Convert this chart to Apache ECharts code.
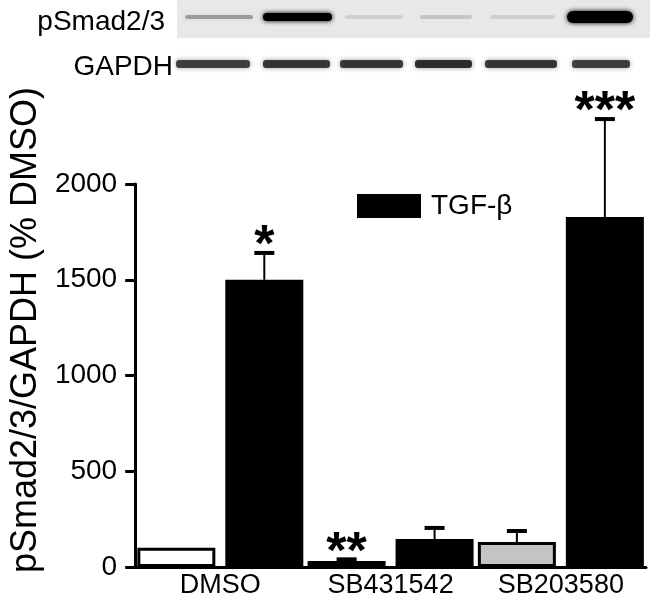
<!DOCTYPE html>
<html>
<head>
<meta charset="utf-8">
<script src="https://cdn.jsdelivr.net/npm/echarts@6/dist/echarts.min.js"></script>
<style>
  html, body { margin: 0; padding: 0; background: #fff; }
  #chart { width: 650px; height: 603px; }
</style>
</head>
<body>
<div id="chart"></div>
<script>
// data
const categories = ['DMSO', 'SB431542', 'SB203580']
const ctrlValues = [100, 31, 130]
const ctrlErrTop = [null, 40, 188]
const tgfValues = [1500, 146, 1828]
const tgfErrTop = [1640, 204, 2339]
const ctrlStars = ['', '**', '']
const tgfStars = ['*', '', '***']
const yTicks = [0, 500, 1000, 1500, 2000]
// western blot band intensity per lane (0..1)
const pSmadBands = [0.3, 1, 0.1, 0.14, 0.1, 1]
const gapdhBands = [0.8, 0.85, 0.85, 0.9, 0.85, 0.8]

const FONT = 'Liberation Sans, Arial, sans-serif'
const BAR_W = 78
const BAR_GAP = 0.128
const HALF = (BAR_W * (1 + BAR_GAP)) / 2

const chart = echarts.init(document.getElementById('chart'), null, { renderer: 'canvas' })

function errorSeries(name, values, tops, stars, side) {
  return {
    name,
    type: 'custom',
    z: 5,
    clip: false,
    silent: true,
    data: values.map((v, i) => [i, v, tops[i] == null ? v : tops[i], tops[i] == null ? 0 : 1]),
    renderItem(params, api) {
      const i = params.dataIndex
      const base = api.coord([api.value(0), api.value(1)])
      const top = api.coord([api.value(0), api.value(2)])
      const x = base[0] + side * HALF
      const children = []
      if (api.value(3)) {
        children.push({
          type: 'line',
          shape: { x1: x, y1: base[1], x2: x, y2: top[1] },
          style: { stroke: '#000', lineWidth: 2 },
        })
        children.push({
          type: 'line',
          shape: { x1: x - 10, y1: top[1], x2: x + 10, y2: top[1] },
          style: { stroke: '#000', lineWidth: 4 },
        })
      }
      if (stars[i]) {
        children.push({
          type: 'text',
          x,
          y: top[1] + 20,
          style: {
            text: stars[i],
            font: 'bold 52px ' + FONT,
            fill: '#000',
            align: 'center',
            verticalAlign: 'bottom',
          },
        })
      }
      return { type: 'group', children }
    },
  }
}

function blotGraphics() {
  const pLanes = [[185, 253], [263, 332], [345, 403], [420, 472], [490, 555], [567, 633]]
  const gLanes = [[176, 250], [263, 330], [340, 403], [415, 472], [485, 557], [572, 630]]
  const out = [
    { type: 'rect', shape: { x: 177, y: 0, width: 473, height: 38 }, style: { fill: '#e8e8e8' }, z: 1 },
    {
      type: 'text', x: 165, y: 22, z: 3,
      style: { text: 'pSmad2/3', font: '28px ' + FONT, fill: '#000', align: 'right', verticalAlign: 'middle' },
    },
    {
      type: 'text', x: 173, y: 67, z: 3,
      style: { text: 'GAPDH', font: '28px ' + FONT, fill: '#000', align: 'right', verticalAlign: 'middle' },
    },
  ]
  pSmadBands.forEach((a, k) => {
    const [x0, x1] = pLanes[k]
    const h = a > 0.5 ? (k === 5 ? 12 : 8) : 4
    const c = `rgba(0,0,0,${a})`
    out.push({
      type: 'rect', z: 2,
      shape: { x: x0, y: 17 - h / 2, width: x1 - x0, height: h, r: h / 2 },
      style: { fill: c, shadowColor: c, shadowBlur: 5 },
    })
  })
  gapdhBands.forEach((a, k) => {
    const [x0, x1] = gLanes[k]
    const c = `rgba(30,30,30,${a})`
    out.push({
      type: 'rect', z: 2,
      shape: { x: x0, y: 60, width: x1 - x0, height: 8, r: 3 },
      style: { fill: c, shadowColor: 'rgba(0,0,0,0.45)', shadowBlur: 5 },
    })
  })
  return out
}

chart.setOption({
  backgroundColor: '#fff',
  animation: false,
  textStyle: { fontFamily: FONT, color: '#000' },
  grid: { left: 121, right: 4, top: 184, bottom: 36, containLabel: false },
  legend: {
    data: ['TGF-β'],
    left: 357,
    top: 192,
    padding: 0,
    itemWidth: 62,
    itemHeight: 22,
    icon: 'rect',
    textStyle: { fontSize: 28, color: '#000', fontFamily: FONT, padding: [0, 0, 0, 6] },
  },
  xAxis: {
    type: 'category',
    data: categories,
    axisLine: { lineStyle: { color: '#000', width: 3 } },
    axisTick: { show: false },
    axisLabel: { fontSize: 27, color: '#000', margin: 5, fontFamily: FONT },
  },
  yAxis: {
    type: 'value',
    min: yTicks[0],
    max: yTicks[yTicks.length - 1],
    interval: 500,
    name: 'pSmad2/3/GAPDH (% DMSO)',
    nameLocation: 'middle',
    nameGap: 82,
    nameTextStyle: { fontSize: 36, color: '#000', fontFamily: FONT, padding: [0, 0, 0, 91] },
    axisLine: { show: true, lineStyle: { color: '#000', width: 3 } },
    axisTick: { show: true, length: 10, lineStyle: { color: '#000', width: 3 } },
    axisLabel: { fontSize: 28, color: '#000', margin: 18, fontFamily: FONT, formatter: (v) => String(v) },
    splitLine: { show: false },
  },
  series: [
    {
      name: 'Control',
      type: 'bar',
      barWidth: BAR_W,
      barGap: BAR_GAP * 100 + '%',
      data: ctrlValues.map((v, i) => ({
        value: v,
        itemStyle: { color: i === 2 ? '#c4c4c4' : '#fff' },
      })),
      itemStyle: { borderColor: '#000', borderWidth: 3 },
    },
    {
      name: 'TGF-β',
      type: 'bar',
      barWidth: BAR_W,
      data: tgfValues,
      itemStyle: { color: '#000', borderColor: '#000', borderWidth: 2 },
    },
    errorSeries('ctrlErr', ctrlValues, ctrlErrTop, ctrlStars, -1),
    errorSeries('tgfErr', tgfValues, tgfErrTop, tgfStars, 1),
  ],
  graphic: blotGraphics(),
})
</script>
</body>
</html>
